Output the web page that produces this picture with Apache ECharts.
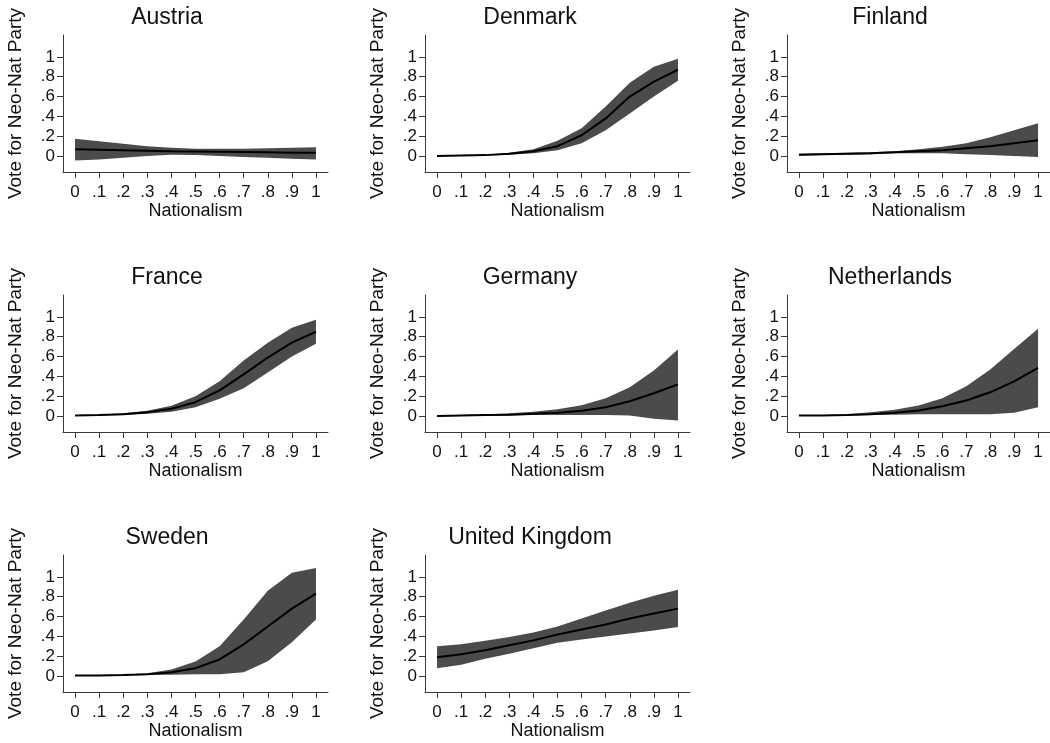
<!DOCTYPE html>
<html><head><meta charset="utf-8">
<script src="https://cdn.jsdelivr.net/npm/echarts@6/dist/echarts.min.js"></script>
<style>html,body{margin:0;padding:0;background:#fff}#c{width:1050px;height:743px}</style>
</head><body><div id="c"></div>
<script>
// ---- data ----
const nationalism = [0, 0.1, 0.2, 0.3, 0.4, 0.5, 0.6, 0.7, 0.8, 0.9, 1];
const xTickValues = [0, 0.1, 0.2, 0.3, 0.4, 0.5, 0.6, 0.7, 0.8, 0.9, 1];
const xTickLabels = ['0', '.1', '.2', '.3', '.4', '.5', '.6', '.7', '.8', '.9', '1'];
const yTickValues = [0, 0.2, 0.4, 0.6, 0.8, 1];
const yTickLabels = ['0', '.2', '.4', '.6', '.8', '1'];
const countries = ['Austria', 'Denmark', 'Finland', 'France', 'Germany', 'Netherlands', 'Sweden', 'United Kingdom'];

const austriaFit   = [0.07, 0.065, 0.06, 0.055, 0.05, 0.047, 0.044, 0.041, 0.038, 0.035, 0.033];
const austriaUpper = [0.175, 0.15, 0.125, 0.1, 0.085, 0.075, 0.075, 0.075, 0.08, 0.085, 0.09];
const austriaLower = [-0.045, -0.035, -0.017, 0, 0.013, 0.01, 0, -0.01, -0.017, -0.027, -0.034];

const denmarkFit   = [0, 0.005, 0.01, 0.025, 0.05, 0.1, 0.21, 0.38, 0.6, 0.75, 0.87];
const denmarkUpper = [0.003, 0.008, 0.015, 0.035, 0.07, 0.155, 0.28, 0.5, 0.74, 0.9, 0.98];
const denmarkLower = [0, 0.002, 0.005, 0.015, 0.03, 0.06, 0.13, 0.26, 0.43, 0.6, 0.76];

const finlandFit   = [0.015, 0.02, 0.025, 0.03, 0.04, 0.05, 0.06, 0.08, 0.1, 0.13, 0.16];
const finlandUpper = [0.025, 0.03, 0.035, 0.04, 0.05, 0.07, 0.095, 0.13, 0.19, 0.26, 0.33];
const finlandLower = [0.005, 0.01, 0.015, 0.02, 0.03, 0.03, 0.03, 0.02, 0.01, 0, -0.01];

const franceFit   = [0.005, 0.01, 0.02, 0.04, 0.075, 0.14, 0.26, 0.42, 0.59, 0.74, 0.85];
const franceUpper = [0.01, 0.015, 0.03, 0.055, 0.105, 0.2, 0.35, 0.56, 0.74, 0.89, 0.97];
const franceLower = [0, 0.005, 0.01, 0.025, 0.045, 0.09, 0.175, 0.28, 0.44, 0.6, 0.73];

const germanyFit   = [0, 0.005, 0.01, 0.015, 0.025, 0.035, 0.055, 0.09, 0.15, 0.23, 0.32];
const germanyUpper = [0.01, 0.01, 0.02, 0.03, 0.045, 0.07, 0.11, 0.18, 0.29, 0.46, 0.67];
const germanyLower = [-0.005, 0, 0, 0.005, 0.01, 0.01, 0.01, 0.01, 0.005, -0.027, -0.043];

const netherlandsFit   = [0.005, 0.005, 0.01, 0.02, 0.035, 0.057, 0.1, 0.157, 0.24, 0.35, 0.485];
const netherlandsUpper = [0.01, 0.01, 0.02, 0.04, 0.065, 0.107, 0.18, 0.3, 0.47, 0.675, 0.88];
const netherlandsLower = [0, 0, 0.005, 0.01, 0.015, 0.02, 0.02, 0.02, 0.02, 0.033, 0.09];

const swedenFit   = [0.005, 0.005, 0.01, 0.02, 0.04, 0.08, 0.168, 0.32, 0.5, 0.68, 0.83];
const swedenUpper = [0.01, 0.01, 0.015, 0.03, 0.067, 0.148, 0.3, 0.57, 0.86, 1.04, 1.09];
const swedenLower = [0, 0, 0.005, 0.01, 0.015, 0.02, 0.02, 0.04, 0.15, 0.34, 0.57];

const ukFit   = [0.19, 0.22, 0.26, 0.31, 0.36, 0.42, 0.47, 0.52, 0.58, 0.63, 0.68];
const ukUpper = [0.3, 0.32, 0.355, 0.394, 0.44, 0.5, 0.58, 0.66, 0.74, 0.81, 0.87];
const ukLower = [0.08, 0.115, 0.175, 0.226, 0.28, 0.337, 0.37, 0.4, 0.43, 0.46, 0.495];

const panels = [
  [austriaFit, austriaLower, austriaUpper],
  [denmarkFit, denmarkLower, denmarkUpper],
  [finlandFit, finlandLower, finlandUpper],
  [franceFit, franceLower, franceUpper],
  [germanyFit, germanyLower, germanyUpper],
  [netherlandsFit, netherlandsLower, netherlandsUpper],
  [swedenFit, swedenLower, swedenUpper],
  [ukFit, ukLower, ukUpper]
];

// ---- layout ----
const FONT = "'Liberation Sans', Arial, Helvetica, sans-serif";
const colLeft = [63, 425, 787];
const colTitle = [167, 530, 890];
const rowTop = [35, 295, 555];
const gridW = 265, gridH = 137;
const bandColor = '#4b4b4b';
const axisColor = '#3a3a3a';

const grids = [], xAxes = [], yAxes = [], titles = [], series = [];
countries.forEach((name, i) => {
  const r = Math.floor(i / 3), c = i % 3;
  grids.push({ left: colLeft[c], top: rowTop[r], width: gridW, height: gridH, containLabel: false });
  titles.push({
    text: name, left: colTitle[c], top: rowTop[r] - 29, textAlign: 'center', padding: 0,
    textStyle: { fontFamily: FONT, fontSize: 23, fontWeight: 'normal', color: '#111' }
  });
  xAxes.push({
    type: 'value', gridIndex: i, min: -0.05, max: 1.05,
    name: 'Nationalism', nameLocation: 'middle', nameGap: 30,
    nameTextStyle: { fontFamily: FONT, fontSize: 18, color: '#111' },
    axisLine: { show: true, onZero: false, lineStyle: { color: axisColor, width: 1 } },
    axisTick: { show: true, inside: false, length: 6, customValues: xTickValues, lineStyle: { color: axisColor } },
    axisLabel: {
      customValues: xTickValues, margin: 12, fontFamily: FONT, fontSize: 17, color: '#111',
      formatter: v => { const k = xTickValues.findIndex(t => Math.abs(t - v) < 1e-6); return k >= 0 ? xTickLabels[k] : ''; }
    },
    splitLine: { show: false }
  });
  yAxes.push({
    type: 'value', gridIndex: i, min: -0.16, max: 1.22,
    name: 'Vote for Neo-Nat Party', nameLocation: 'middle', nameGap: 38,
    nameTextStyle: { fontFamily: FONT, fontSize: 19, color: '#111' },
    axisLine: { show: true, onZero: false, lineStyle: { color: axisColor, width: 1 } },
    axisTick: { show: true, inside: false, length: 6, customValues: yTickValues, lineStyle: { color: axisColor } },
    axisLabel: {
      customValues: yTickValues, margin: 8, fontFamily: FONT, fontSize: 17, color: '#111',
      formatter: v => { const k = yTickValues.findIndex(t => Math.abs(t - v) < 1e-6); return k >= 0 ? yTickLabels[k] : ''; }
    },
    splitLine: { show: false }
  });
  const [fit, lower, upper] = panels[i];
  series.push({
    type: 'custom', xAxisIndex: i, yAxisIndex: i, silent: true, z: 1,
    data: nationalism.map((x, k) => [x, lower[k], upper[k]]),
    encode: { x: 0, y: [1, 2] },
    renderItem: (params, api) => {
      if (params.dataIndex !== 0) return null;
      const pts = [];
      for (let k = 0; k < nationalism.length; k++) pts.push(api.coord([nationalism[k], upper[k]]));
      for (let k = nationalism.length - 1; k >= 0; k--) pts.push(api.coord([nationalism[k], lower[k]]));
      return { type: 'polygon', shape: { points: pts }, style: { fill: bandColor, stroke: null } };
    }
  });
  series.push({
    type: 'line', xAxisIndex: i, yAxisIndex: i,
    data: nationalism.map((x, k) => [x, fit[k]]),
    showSymbol: false, symbol: 'none', lineStyle: { width: 2, color: '#000' }, silent: true, z: 3
  });
});

const chart = echarts.init(document.getElementById('c'), null, { renderer: 'canvas' });
chart.setOption({
  backgroundColor: '#fff', animation: false,
  title: titles, grid: grids, xAxis: xAxes, yAxis: yAxes, series: series
});
</script>
</body></html>
